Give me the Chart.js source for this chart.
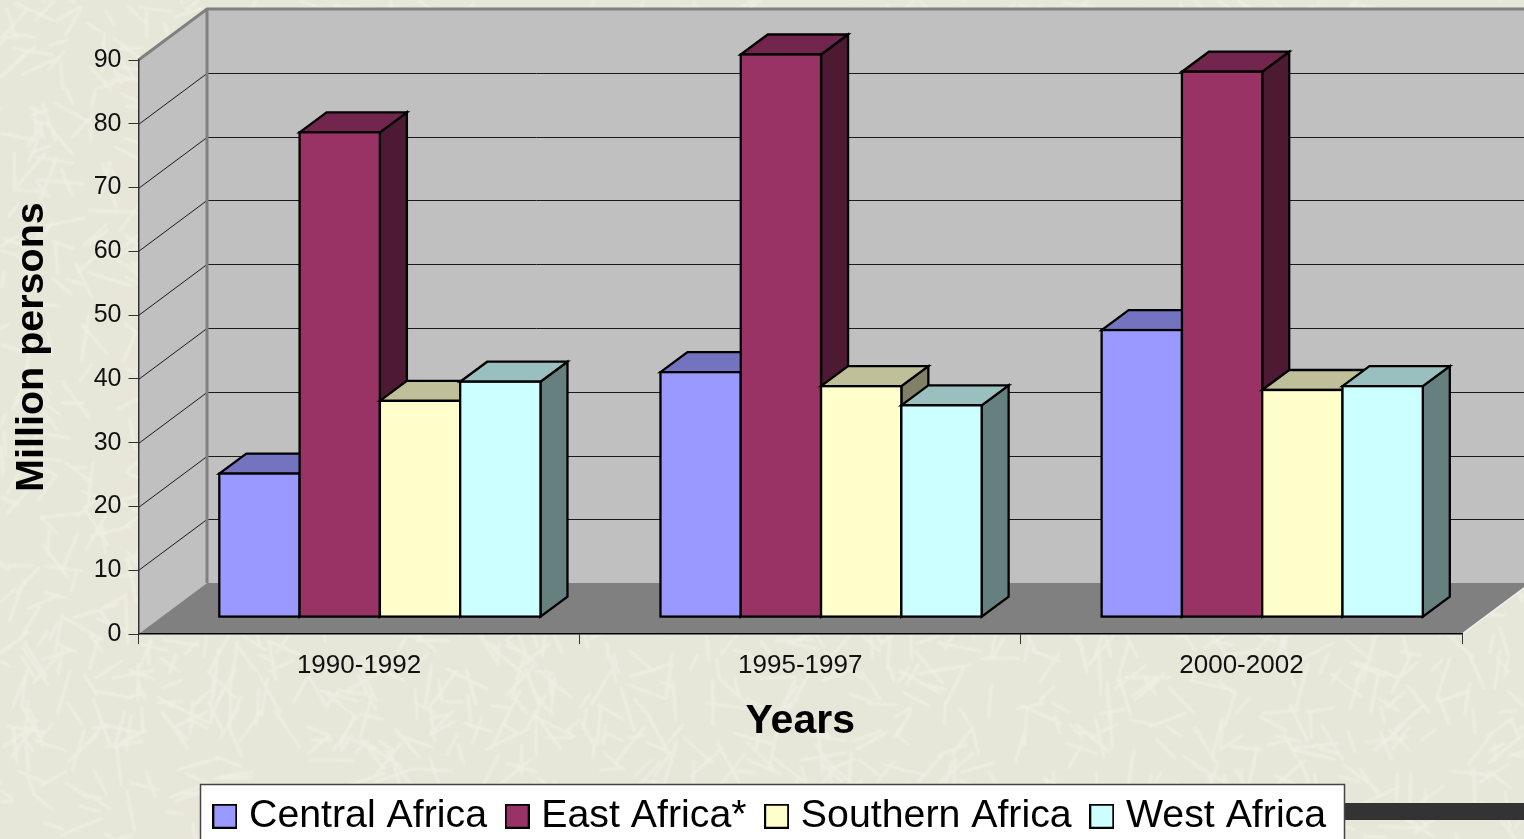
<!DOCTYPE html>
<html>
<head>
<meta charset="utf-8">
<title>Million persons by region</title>
<script src="https://cdn.jsdelivr.net/npm/chart.js@4.4.1/dist/chart.umd.js"></script>
<style>
    html, body { margin: 0; padding: 0; background: #e8e9dc; overflow: hidden; }
    canvas { display: block; }
</style>
</head>
<body>
<canvas id="grafico" width="1524" height="839"></canvas>
<script>
    var anos = ['1990-1992', '1995-1997', '2000-2002'];
    var regioes = ['Central Africa', 'East Africa*', 'Southern Africa', 'West Africa'];

    var centralAfrica = [22.5, 38.4, 45.0];
    var eastAfrica = [76.0, 88.2, 85.5];
    var southernAfrica = [33.9, 36.2, 35.6];
    var westAfrica = [36.9, 33.2, 36.2];

    var corFrente = ['#9999ff', '#993366', '#ffffcc', '#ccffff'];
    var corTopo = ['#7373bf', '#73264d', '#bfbf99', '#99bfbf'];
    var corLado = ['#4d4d80', '#4d1933', '#808066', '#668080'];

    // Deslocamentos da perspectiva (parede do fundo, frente das barras, profundidade das barras)
    var fundo = { x: 68.5, y: -51 };
    var frente = { x: 20.8, y: -17 };
    var prof = { x: 27, y: -20 };

    // Quadradinho da legenda
    function criarCaixa(cor) {
        var c = document.createElement('canvas');
        c.width = 25;
        c.height = 25;
        var g = c.getContext('2d');
        g.fillStyle = cor;
        g.fillRect(1, 1, 23, 23);
        g.strokeStyle = '#000';
        g.lineWidth = 2;
        g.strokeRect(1, 1, 23, 23);
        return c;
    }

    function poligono(ctx, pontos, preenchimento) {
        ctx.beginPath();
        ctx.moveTo(pontos[0][0], pontos[0][1]);
        for (var i = 1; i < pontos.length; i++) {
            ctx.lineTo(pontos[i][0], pontos[i][1]);
        }
        ctx.closePath();
        if (preenchimento) {
            ctx.fillStyle = preenchimento;
            ctx.fill();
        }
    }

    // Hash fixo so para a textura do fundo (nao entra nos dados)
    function passo(i, k) {
        var s = Math.sin(i * k) * 43758.5453;
        return s - Math.floor(s);
    }

    // Textura de fios claros do slide.
    // Desenha uma vez num canvas separado e o blur e aplicado so na copia final
    function desenharTextura(ctx, w, h) {
        var c = document.createElement('canvas');
        c.width = w;
        c.height = h;
        var g = c.getContext('2d');
        g.strokeStyle = '#eeefe3';
        g.lineCap = 'round';
        g.lineWidth = 2.5;
        g.beginPath();
        for (var i = 1; i <= 2600; i++) {
            var x = passo(i, 12.9898) * w;
            var y = passo(i, 78.233) * h;
            var ang = passo(i, 37.719) * Math.PI * 2;
            var tam = 15 + passo(i, 93.989) * 32;
            g.moveTo(x, y);
            g.lineTo(x + Math.cos(ang) * tam, y + Math.sin(ang) * tam);
        }
        g.stroke();

        ctx.save();
        ctx.fillStyle = '#e6e7d9';
        ctx.fillRect(0, 0, w, h);
        ctx.filter = 'blur(1.2px)';
        ctx.drawImage(c, 0, 0);
        ctx.restore();
    }

    var cenario3d = {
        id: 'cenario3d',
        beforeDraw: function(chart) {
            var ctx = chart.ctx;
            var a = chart.chartArea;
            var escalaY = chart.scales.y;

            desenharTextura(ctx, chart.width, chart.height);

            // Caixa da legenda e a faixa escura do slide
            ctx.fillStyle = '#333333';
            ctx.fillRect(1344, 803, 180, 17);
            ctx.fillStyle = '#ffffff';
            ctx.fillRect(200, 784, 1144, 60);
            ctx.strokeStyle = '#444444';
            ctx.lineWidth = 1.5;
            ctx.strokeRect(200.5, 784.5, 1144, 60);

            // Paredes e piso
            var bx = a.left + fundo.x;
            var topo = a.top + fundo.y;
            var base = a.bottom + fundo.y;
            poligono(ctx, [[bx, topo], [a.right + fundo.x, topo], [a.right + fundo.x, base], [bx, base]], '#c0c0c0');
            poligono(ctx, [[a.left, a.bottom], [a.left, a.top], [bx, topo], [bx, base]], '#c0c0c0');
            poligono(ctx, [[a.left, a.bottom], [bx, base], [a.right + fundo.x, base], [a.right, a.bottom]], '#808080');

            // Linhas de grade, uma por tick da escala
            ctx.strokeStyle = '#1a1a1a';
            ctx.lineWidth = 1;
            escalaY.ticks.forEach(function(t) {
                if (t.value === 0 || t.value === escalaY.max) return;
                var py = Math.round(escalaY.getPixelForValue(t.value)) + 0.5;
                ctx.beginPath();
                ctx.moveTo(a.left, py);
                ctx.lineTo(bx, py + fundo.y);
                ctx.lineTo(a.right + fundo.x, py + fundo.y);
                ctx.stroke();
            });

            ctx.strokeStyle = '#808080';
            ctx.lineWidth = 3;
            ctx.beginPath();
            ctx.moveTo(a.left, a.top);
            ctx.lineTo(bx, topo);
            ctx.lineTo(a.right + fundo.x, topo);
            ctx.moveTo(bx, topo);
            ctx.lineTo(bx, base);
            ctx.stroke();
            ctx.lineWidth = 1.5;
            ctx.strokeStyle = '#f0f0f0';
            ctx.beginPath();
            ctx.moveTo(a.right, a.bottom);
            ctx.lineTo(a.right + fundo.x, base);
            ctx.stroke();
        },
        // As series sao desenhadas aqui, da primeira para a ultima, cada uma cobrindo a anterior
        beforeDatasetsDraw: function(chart) {
            var ctx = chart.ctx;
            ctx.save();
            ctx.translate(frente.x, frente.y);
            ctx.lineJoin = 'miter';
            chart.data.datasets.forEach(function(ds, i) {
                chart.getDatasetMeta(i).data.forEach(function(barra) {
                    var p = barra.getProps(['x', 'y', 'base', 'width'], true);
                    var e = p.x - p.width / 2;
                    var d = p.x + p.width / 2;

                    ctx.lineWidth = 2.3;
                    ctx.strokeStyle = '#000';
                    poligono(ctx, [[d, p.y], [d + prof.x, p.y + prof.y], [d + prof.x, p.base + prof.y], [d, p.base]], corLado[i]);
                    ctx.stroke();
                    poligono(ctx, [[e, p.y], [e + prof.x, p.y + prof.y], [d + prof.x, p.y + prof.y], [d, p.y]], corTopo[i]);
                    ctx.stroke();

                    barra.draw(ctx);
                    ctx.lineWidth = 2.3;
                    ctx.strokeStyle = '#000';
                    ctx.strokeRect(e, p.y, p.width, p.base - p.y);
                });
            });
            ctx.restore();
            return false;
        },
        // A legenda fica onde esta no slide, nao onde o layout colocaria
        afterLayout: function(chart) {
            chart.legend.left = 194.75;
            chart.legend.right = 1400;
            chart.legend.top = 771;
        }
    };

    var series = [centralAfrica, eastAfrica, southernAfrica, westAfrica];

    new Chart(document.getElementById('grafico').getContext('2d'), {
        type: 'bar',
        plugins: [cenario3d],
        data: {
            labels: anos,
            datasets: series.map(function(valores, i) {
                return {
                    label: regioes[i],
                    data: valores,
                    backgroundColor: corFrente[i],
                    borderWidth: 0,
                    pointStyle: criarCaixa(corFrente[i]),
                    categoryPercentage: 0.728,
                    barPercentage: 1
                };
            })
        },
        options: {
            responsive: false,
            animation: false,
            layout: { padding: { top: 60, right: 62, left: 0, bottom: 0 } },
            font: { family: '"Liberation Sans", Arial, sans-serif' },
            plugins: {
                tooltip: { enabled: false },
                legend: {
                    position: 'bottom',
                    align: 'start',
                    labels: {
                        usePointStyle: true,
                        pointStyleWidth: 9,
                        padding: 25.6,
                        color: '#000',
                        font: { family: '"Liberation Sans", Arial, sans-serif', size: 39.3, lineHeight: 1 }
                    }
                }
            },
            scales: {
                x: {
                    afterFit: function(escala) { escala.height = 130; },
                    grid: { offset: true, drawOnChartArea: false, color: '#333', tickLength: 10 },
                    border: { color: '#000', width: 1.5 },
                    ticks: {
                        color: '#111',
                        padding: 6,
                        maxRotation: 0,
                        font: { family: '"Liberation Sans", Arial, sans-serif', size: 26 }
                    },
                    title: {
                        display: true,
                        text: 'Years',
                        color: '#000',
                        padding: { top: 0, bottom: 18 },
                        font: { family: '"Liberation Sans", Arial, sans-serif', size: 41, weight: 'bold' }
                    }
                },
                y: {
                    min: 0,
                    max: 90,
                    afterFit: function(escala) { escala.width = 138.5; },
                    grid: { drawOnChartArea: false, color: '#333', tickLength: 10 },
                    border: { color: '#333', width: 1.5 },
                    ticks: {
                        stepSize: 10,
                        color: '#111',
                        padding: 7,
                        font: { family: '"Liberation Sans", Arial, sans-serif', size: 25 }
                    },
                    title: {
                        display: true,
                        text: 'Million persons',
                        color: '#000',
                        padding: { top: 8, bottom: 0 },
                        font: { family: '"Liberation Sans", Arial, sans-serif', size: 39.5, weight: 'bold' }
                    }
                }
            }
        }
    });
</script>
</body>
</html>
